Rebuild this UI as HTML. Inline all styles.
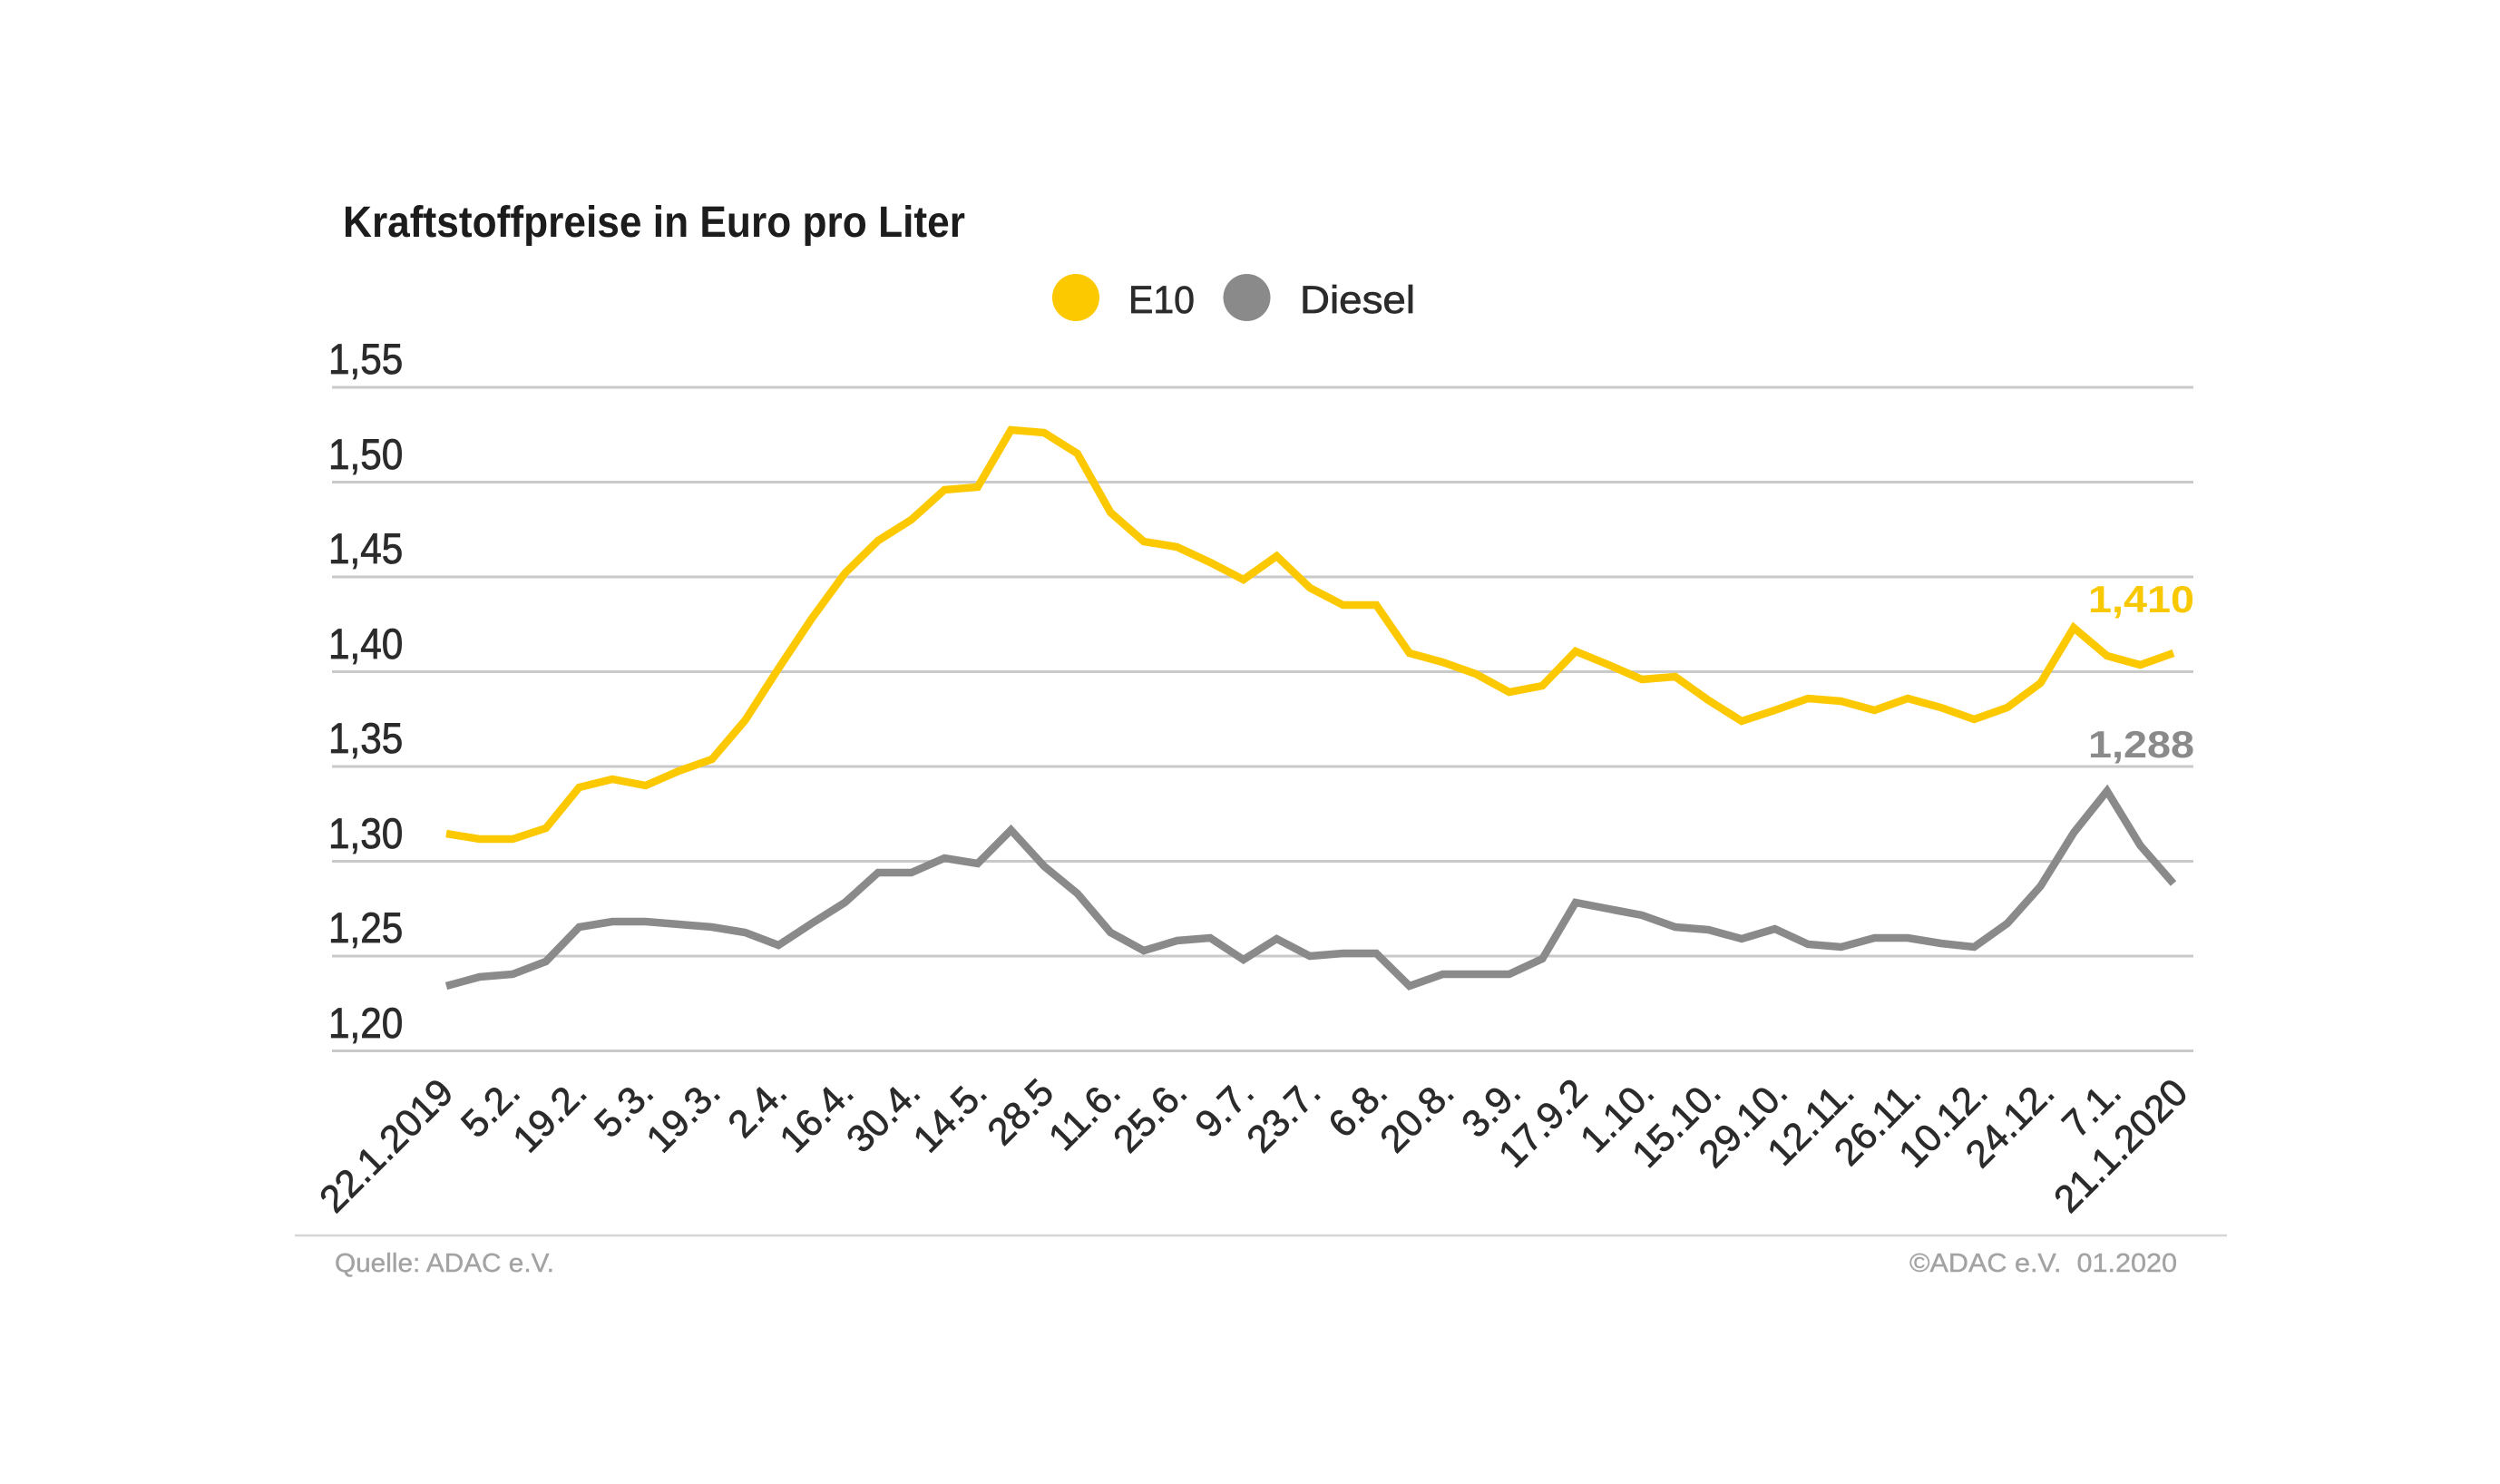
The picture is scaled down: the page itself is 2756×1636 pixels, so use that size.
<!DOCTYPE html>
<html>
<head>
<meta charset="utf-8">
<style>
  html, body { margin: 0; padding: 0; background: #ffffff; }
  body { width: 2756px; height: 1636px; overflow: hidden; }
  svg { display: block; }
  text { font-family: "Liberation Sans", "DejaVu Sans", sans-serif; }
</style>
</head>
<body>
<svg width="2756" height="1636" viewBox="0 0 2756 1636" xmlns="http://www.w3.org/2000/svg">
  <rect x="0" y="0" width="2756" height="1636" fill="#ffffff"/>

  <!-- Title -->
  <text x="378" y="261" font-size="48" font-weight="bold" fill="#1c1c1c" textLength="686" lengthAdjust="spacingAndGlyphs">Kraftstoffpreise in Euro pro Liter</text>

  <!-- Legend -->
  <circle cx="1186" cy="328" r="26" fill="#fcc900"/>
  <text x="1244" y="345" font-size="43" fill="#2b2b2b" stroke="#2b2b2b" stroke-width="0.7" textLength="73" lengthAdjust="spacingAndGlyphs">E10</text>
  <circle cx="1374.5" cy="328" r="26" fill="#8a8a8a"/>
  <text x="1433" y="345" font-size="43" fill="#2b2b2b" stroke="#2b2b2b" stroke-width="0.7" textLength="127" lengthAdjust="spacingAndGlyphs">Diesel</text>

  <!-- Gridlines -->
  <g stroke="#c9c9c9" stroke-width="3">
    <line x1="366" y1="427" x2="2418" y2="427"/>
    <line x1="366" y1="531.5" x2="2418" y2="531.5"/>
    <line x1="366" y1="636" x2="2418" y2="636"/>
    <line x1="366" y1="740.5" x2="2418" y2="740.5"/>
    <line x1="366" y1="845" x2="2418" y2="845"/>
    <line x1="366" y1="949.5" x2="2418" y2="949.5"/>
    <line x1="366" y1="1054" x2="2418" y2="1054"/>
    <line x1="366" y1="1158.5" x2="2418" y2="1158.5"/>
  </g>

  <!-- Y labels -->
  <g font-size="47" fill="#2b2b2b" stroke="#2b2b2b" stroke-width="0.8">
    <text transform="translate(362,412) scale(0.9,1)">1,55</text>
    <text transform="translate(362,517) scale(0.9,1)">1,50</text>
    <text transform="translate(362,621) scale(0.9,1)">1,45</text>
    <text transform="translate(362,726) scale(0.9,1)">1,40</text>
    <text transform="translate(362,830) scale(0.9,1)">1,35</text>
    <text transform="translate(362,935) scale(0.9,1)">1,30</text>
    <text transform="translate(362,1039) scale(0.9,1)">1,25</text>
    <text transform="translate(362,1144) scale(0.9,1)">1,20</text>
  </g>

  <!-- Diesel series -->
  <polyline fill="none" stroke="#8a8a8a" stroke-width="8.5" stroke-linejoin="miter" stroke-miterlimit="4" stroke-linecap="butt"
    points="492.0,1087 528.6,1077 565.2,1074 601.8,1060 638.5,1022 675.1,1016 711.7,1016 748.3,1019 784.9,1022 821.5,1028 858.2,1042 894.8,1018 931.4,995 968.0,962 1004.6,962 1041.2,946 1077.8,952 1114.5,915 1151.1,955 1187.7,985 1224.3,1028 1260.9,1048 1297.5,1037 1334.1,1034 1370.8,1058 1407.4,1035 1444.0,1054 1480.6,1051 1517.2,1051 1553.8,1087 1590.5,1074 1627.1,1074 1663.7,1074 1700.3,1057 1736.9,995 1773.5,1002 1810.1,1009 1846.8,1022 1883.4,1025 1920.0,1035 1956.6,1024 1993.2,1041 2029.8,1044 2066.4,1034 2103.1,1034 2139.7,1040 2176.3,1044 2212.9,1018 2249.5,977 2286.1,918 2322.8,872 2359.4,932 2396.0,974"/>

  <!-- E10 series -->
  <polyline fill="none" stroke="#fcc900" stroke-width="8.5" stroke-linejoin="miter" stroke-miterlimit="4" stroke-linecap="butt"
    points="492.0,919 528.6,925 565.2,925 601.8,913 638.5,868 675.1,859 711.7,866 748.3,850 784.9,837 821.5,794 858.2,737 894.8,682 931.4,632 968.0,596 1004.6,573 1041.2,540 1077.8,537 1114.5,474 1151.1,477 1187.7,500 1224.3,565 1260.9,597 1297.5,603 1334.1,620 1370.8,639 1407.4,613 1444.0,648 1480.6,667 1517.2,667 1553.8,720 1590.5,730 1627.1,743 1663.7,763 1700.3,756 1736.9,718 1773.5,733 1810.1,749 1846.8,746 1883.4,772 1920.0,795 1956.6,783 1993.2,770 2029.8,773 2066.4,783 2103.1,770 2139.7,780 2176.3,793 2212.9,780 2249.5,753 2286.1,692 2322.8,723 2359.4,733 2396.0,720"/>

  <!-- End value labels -->
  <text x="2302" y="675" font-size="42" font-weight="bold" fill="#f8c800" textLength="117" lengthAdjust="spacingAndGlyphs">1,410</text>
  <text x="2302" y="835" font-size="42" font-weight="bold" fill="#8a8a8a" textLength="117" lengthAdjust="spacingAndGlyphs">1,288</text>

  <!-- X labels -->
  <g font-size="42" fill="#2b2b2b" stroke="#2b2b2b" stroke-width="0.8" text-anchor="end">
    <text transform="translate(502,1207) rotate(-45)">22.1.2019</text>
    <text transform="translate(575.5,1207) rotate(-45)">5.2.</text>
    <text transform="translate(649.1,1207) rotate(-45)">19.2.</text>
    <text transform="translate(722.6,1207) rotate(-45)">5.3.</text>
    <text transform="translate(796.2,1207) rotate(-45)">19.3.</text>
    <text transform="translate(869.7,1207) rotate(-45)">2.4.</text>
    <text transform="translate(943.2,1207) rotate(-45)">16.4.</text>
    <text transform="translate(1016.8,1207) rotate(-45)">30.4.</text>
    <text transform="translate(1090.3,1207) rotate(-45)">14.5.</text>
    <text transform="translate(1163.9,1207) rotate(-45)">28.5</text>
    <text transform="translate(1237.4,1207) rotate(-45)">11.6.</text>
    <text transform="translate(1310.9,1207) rotate(-45)">25.6.</text>
    <text transform="translate(1384.5,1207) rotate(-45)">9.7.</text>
    <text transform="translate(1458.0,1207) rotate(-45)">23.7.</text>
    <text transform="translate(1531.6,1207) rotate(-45)">6.8.</text>
    <text transform="translate(1605.1,1207) rotate(-45)">20.8.</text>
    <text transform="translate(1678.6,1207) rotate(-45)">3.9.</text>
    <text transform="translate(1752.2,1207) rotate(-45)">17.9.2</text>
    <text transform="translate(1825.7,1207) rotate(-45)">1.10.</text>
    <text transform="translate(1899.3,1207) rotate(-45)">15.10.</text>
    <text transform="translate(1972.8,1207) rotate(-45)">29.10.</text>
    <text transform="translate(2046.3,1207) rotate(-45)">12.11.</text>
    <text transform="translate(2119.9,1207) rotate(-45)">26.11.</text>
    <text transform="translate(2193.4,1207) rotate(-45)">10.12.</text>
    <text transform="translate(2267.0,1207) rotate(-45)">24.12.</text>
    <text transform="translate(2340.5,1207) rotate(-45)">7.1.</text>
    <text transform="translate(2414.0,1207) rotate(-45)">21.1.2020</text>
  </g>

  <!-- Separator -->
  <line x1="325" y1="1362" x2="2455" y2="1362" stroke="#d6d6d6" stroke-width="2.5"/>

  <!-- Footer -->
  <text x="369" y="1402" font-size="29" fill="#a3a3a3" stroke="#a3a3a3" stroke-width="0.4" textLength="242" lengthAdjust="spacingAndGlyphs">Quelle: ADAC e.V.</text>
  <text x="2105" y="1402" font-size="29" fill="#a3a3a3" stroke="#a3a3a3" stroke-width="0.4" textLength="295" lengthAdjust="spacingAndGlyphs" xml:space="preserve">©ADAC e.V.  01.2020</text>
</svg>
</body>
</html>
